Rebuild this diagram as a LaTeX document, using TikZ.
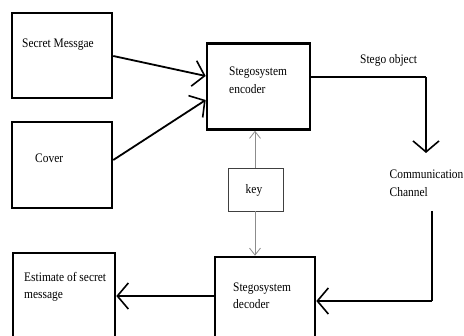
\documentclass[tikz,border=0pt]{standalone}
\usepackage{fontspec}
\setmainfont{Liberation Serif}[FakeStretch=0.88]
\usetikzlibrary{arrows.meta}
\begin{document}
\begin{tikzpicture}[x=1pt,y=-1pt,
  bigbox/.style={draw=black,line width=2.6pt,minimum width=#1,inner sep=0pt},
  txt/.style={anchor=west,inner sep=0pt,font=\fontsize{13}{17.5}\selectfont,align=left},
  flow/.style={line width=1.8pt,-{Straight Barb[length=11pt,width=26pt,line width=1.6pt]}},
  keyflow/.style={draw=black!45,line width=0.9pt,-{Straight Barb[length=7pt,width=11pt,line width=0.8pt]}}]
\useasboundingbox (0,0) rectangle (464,336);
% boxes
\node[bigbox=100pt,minimum height=85pt] (sm) at (62,55.5) {};
\node[bigbox=100pt,minimum height=86pt] (cov) at (62,165) {};
\node[bigbox=103pt,minimum height=86pt] (enc) at (258.5,86.5) {};
\node[draw=black!75,line width=0.8pt,minimum width=55pt,minimum height=43pt,inner sep=0pt] (key) at (255.5,189.5) {};
\node[bigbox=100pt,minimum height=100pt] (dec) at (265,307) {};
\node[bigbox=102pt,minimum height=104pt] (est) at (64,305) {};
% texts
\node[txt] (smt) at (22,45) {Secret Messgae};
\node[txt] (covt) at (35,158) {Cover};
\node[txt] (enct) at (229,80.5) {Stegosystem\\encoder};
\node[font=\fontsize{13}{15}\selectfont,inner sep=0pt] (keyt) at (254,190) {key};
\node[txt] (dect) at (233,296) {Stegosystem\\decoder};
\node[txt] (estt) at (24,287) {Estimate of secret\\message};
\node[txt] (sot) at (360,60) {Stego object};
\node[txt] (cct) at (389.5,183.5) {Communication\\Channel};
% coordinates
\coordinate (so1) at (426,77);
\coordinate (so2) at (426,153);
\coordinate (cc1) at (432,211);
\coordinate (cc2) at (432,301);
% connectors
\draw[flow] (sm.east |- 0,56) -- (enc.west |- 0,76);
\draw[flow] (cov.east |- 0,160) -- (enc.west |- 0,100);
\draw[line width=1.6pt] (enc.east |- so1) -- (so1);
\draw[flow] (so1) -- (so2);
\draw[line width=1.6pt] (cc1) -- (cc2);
\draw[flow] (cc2) -- (dec.east |- cc2);
\draw[flow] (dec.west |- 0,296) -- (est.east |- 0,296);
\draw[keyflow] (key.north -| 255,0) -- (enc.south -| 255,0);
\draw[keyflow] (key.south -| 255,0) -- (dec.north -| 255,0);
\end{tikzpicture}
\end{document}
